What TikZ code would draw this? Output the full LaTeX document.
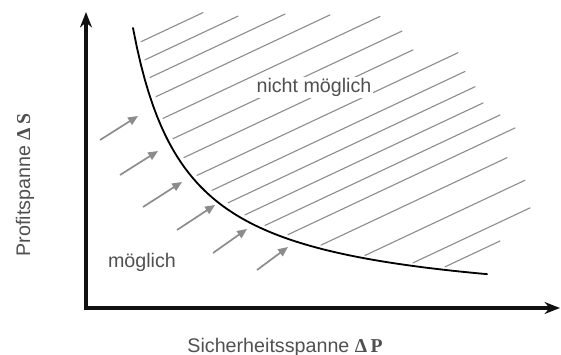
\documentclass[tikz,border=0pt]{standalone}
\usepackage{fontspec}
\setmainfont{Liberation Sans}
\newfontfamily\deltafont{Liberation Serif}
\usetikzlibrary{arrows.meta}
\definecolor{axisc}{HTML}{111111}
\definecolor{hatchc}{HTML}{8E8E8E}
\definecolor{pushc}{HTML}{8C8C8C}
\definecolor{textc}{HTML}{505050}
\tikzset{
  axis/.style={draw=axisc, line width=2.2pt, line join=miter, {Stealth[length=11pt,width=8.5pt]}-{Stealth[length=11pt,width=8.5pt]}},
  frontier/.style={draw=black, line width=1.3pt, line cap=round},
  hatch/.style={draw=hatchc, line width=0.8pt, line cap=round},
  push/.style={draw=pushc, line width=1.2pt, -{Triangle[length=7pt,width=6pt]}},
  lbl/.style={text=textc, font=\fontsize{14}{16}\selectfont, inner sep=1pt},
}
\newcommand{\dsym}[1]{{\deltafont\bfseries Δ\,#1}}

\begin{document}
\begin{tikzpicture}[x=0.025cm, y=-0.025cm]
\useasboundingbox (0,0) rectangle (561,355);
% axes
\coordinate (origin) at (86,308);
\coordinate (ytip) at (86,12);
\coordinate (xtip) at (560,308);
\draw[axis] (ytip) -- (origin) -- (xtip);
% hatching of the region that is not possible
\foreach \c/\xs/\xe in {108/141/203, 128/145/238, 148/150/285, 170/156/330, 195/163/380,
  220/173/402, 244/184/413, 268/197/458, 290/212/465, 310/228/475, 330/245/483,
  350/265/500, 370/288/515, 396/321/507, 427/365/525, 457/413/530, 476/445/500}
  \draw[hatch] ({\xs},{\c-0.47*\xs}) -- ({\xe},{\c-0.47*\xe});
% frontier
\draw[frontier] plot[domain=133:487, samples=90] (\x,{311-15000/(\x-80)});
% arrows towards the frontier
\foreach \xa/\ya/\xb/\yb in {100/140/138/116, 120/175/158/151, 143/207/182/182,
  177/230/215/205, 213/253/247/229, 257/270/288/247}
  \draw[push] (\xa,\ya) -- (\xb,\yb);
% labels
\node[lbl, fill=white, anchor=base] (imposs) at (314,93) {nicht möglich};
\node[lbl, anchor=base] (poss) at (142,267) {möglich};
\node[lbl, anchor=base, rotate=90] (ylab) at (30,185) {Profitspanne \dsym{S}};
\node[lbl, anchor=base] (xlab) at (285,352) {Sicherheitsspanne \dsym{P}};
\end{tikzpicture}
\end{document}
